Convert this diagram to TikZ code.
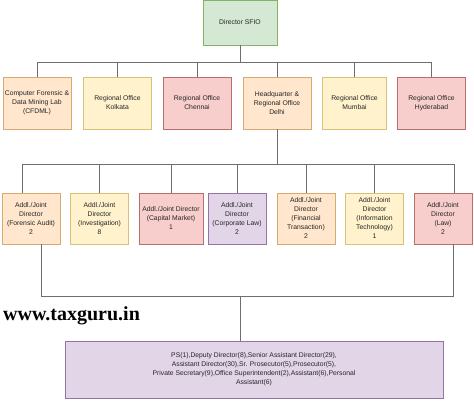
\documentclass[tikz,border=0pt]{standalone}
\usepackage{fontspec}
\setmainfont{Liberation Sans}
\newfontfamily\wmfont{Liberation Serif}
\definecolor{grnfill}{HTML}{D5E8D4}
\definecolor{grnline}{HTML}{82B366}
\definecolor{orgfill}{HTML}{FFE6CC}
\definecolor{orgline}{HTML}{D7AB70}
\definecolor{yelfill}{HTML}{FFF2CC}
\definecolor{yelline}{HTML}{D6C276}
\definecolor{redfill}{HTML}{F8CECC}
\definecolor{redline}{HTML}{B86E6A}
\definecolor{purfill}{HTML}{E1D5E7}
\definecolor{purline}{HTML}{9673A6}
\definecolor{linkgray}{HTML}{6E6E6E}
\tikzset{
	unit/.style={draw, rectangle, align=center, inner sep=1pt, line width=0.7pt,
		text=black!85, font=\fontsize{6.8}{9}\selectfont},
	grnbox/.style={unit, fill=grnfill, draw=grnline},
	orgbox/.style={unit, fill=orgfill, draw=orgline},
	yelbox/.style={unit, fill=yelfill, draw=yelline},
	redbox/.style={unit, fill=redfill, draw=redline},
	purbox/.style={unit, fill=purfill, draw=purline},
	link/.style={draw=linkgray, line width=0.8pt},
}

\begin{document}
\begin{tikzpicture}[x=1pt, y=-1pt]
	\useasboundingbox (0,0) rectangle (474,401);

	% director
	\node[grnbox, minimum width=74pt, minimum height=45pt] (dir) at (240,22.5) {Director SFIO};

	% regional offices
	\begin{scope}[every node/.append style={minimum height=52pt, minimum width=68pt}]
		\node[orgbox] (cfdml) at (37,103) {Computer Forensic \&\\Data Mining Lab\\(CFDML)};
		\node[yelbox] (kol) at (117.5,103) {Regional Office\\Kolkata};
		\node[redbox] (che) at (197,103) {Regional Office\\Chennai};
		\node[orgbox] (del) at (277,103) {Headquarter \&\\Regional Office\\Delhi};
		\node[yelbox, minimum width=64pt] (mum) at (354.5,103) {Regional Office\\Mumbai};
		\node[redbox] (hyd) at (431.5,103) {Regional Office\\Hyderabad};
	\end{scope}

	\coordinate (bus1) at (240,62);
	\foreach \n in {cfdml,kol,che,del,mum,hyd}{
		\draw[link] (dir.south) -- (bus1) -| (\n.north);
	}

	% addl./joint directors
	\begin{scope}[every node/.append style={minimum height=51pt, minimum width=58pt}]
		\node[orgbox] (fa) at (31,218.5) {Addl./Joint\\Director\\(Forensic Audit)\\2};
		\node[yelbox] (inv) at (99.5,218.5) {Addl./Joint\\Director\\(Investigation)\\8};
		\node[redbox, minimum width=64pt] (cm) at (171,218.5) {Addl./Joint Director\\(Capital Market)\\1};
		\node[purbox] (cl) at (237,218.5) {Addl./Joint\\Director\\(Corporate Law)\\2};
		\node[orgbox] (ft) at (306,218.5) {Addl./Joint\\Director\\(Financial\\Transaction)\\2};
		\node[yelbox] (it) at (374.5,218.5) {Addl./Joint\\Director\\(Information\\Technology)\\1};
		\node[redbox] (law) at (443,218.5) {Addl./Joint\\Director\\(Law)\\2};
	\end{scope}

	\coordinate (bus2) at (277,164);
	\draw[link] (del.south) -- (bus2);
	\draw[link] (bus2) -| ([xshift=-9pt]fa.north);
	\draw[link] (bus2) -| ([xshift=11pt]law.north);
	\foreach \n in {inv,cm,cl,ft,it}{
		\draw[link] (bus2) -| (\n.north);
	}

	% staff
	\node[purbox, minimum width=378pt, minimum height=57pt] (staff) at (254,369.5)
		{PS(1),Deputy Director(8),Senior Assistant Director(29),\\
		Assistant Director(30),Sr. Prosecutor(5),Prosecutor(5),\\
		Private Secretary(9),Office Superintendent(2),Assistant(6),Personal\\
		Assistant(6)};

	\coordinate (brk) at (240,296);
	\draw[link] ([xshift=10pt]fa.south) |- ([xshift=10pt]law.south |- brk) -- ([xshift=10pt]law.south);
	\draw[link] (brk) -- (brk |- staff.north);

	% watermark
	\node[anchor=base west, inner sep=0pt, font=\wmfont\fontsize{20}{24}\selectfont\bfseries] (wm) at (3,320) {www.taxguru.in};
\end{tikzpicture}
\end{document}
